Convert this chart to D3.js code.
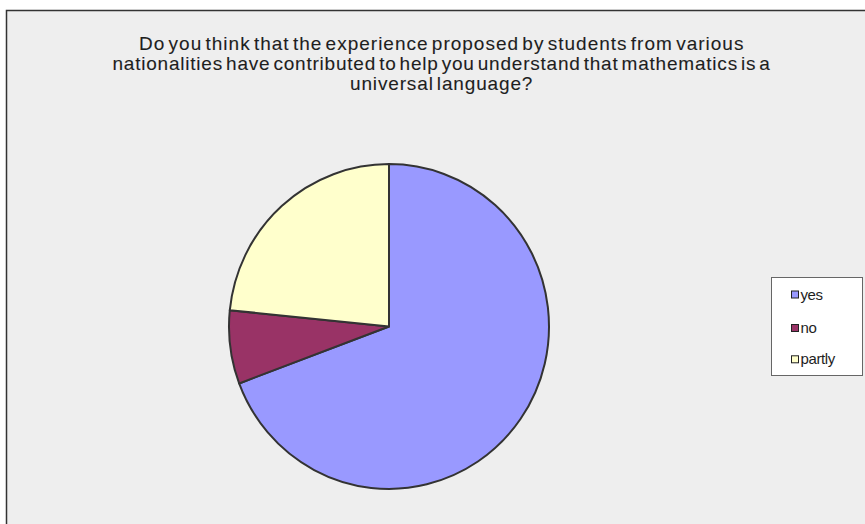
<!DOCTYPE html>
<html>
<head>
<meta charset="utf-8">
<script src="https://cdn.jsdelivr.net/npm/d3@7"></script>
<style>
  html, body { margin: 0; padding: 0; background: #ffffff; }
  svg { display: block; }
  text { font-family: "Liberation Sans", Arial, sans-serif; fill: #1e1e1e; }
</style>
</head>
<body>
<svg id="chart" width="865" height="524"></svg>
<script>
// Survey answers (share of respondents, %)
const categories = ["yes", "no", "partly"];
const values = [69.3, 7.3, 23.4];
const colors = ["#9999FF", "#993366", "#FFFFCC"];
const titleLines = [
  "Do you think that the experience proposed by students from various",
  "nationalities have contributed to help you understand that mathematics is a",
  "universal language?"
];

const W = 865, H = 524;
const svg = d3.select("#chart");

// chart frame: light grey panel with a dark edge on top and left
svg.append("rect").attr("x", 6).attr("y", 10).attr("width", W).attr("height", H)
  .attr("fill", "#eeeeee");
svg.append("path").attr("d", `M6.5,${H} V10.5 H${W}`)
  .attr("fill", "none").attr("stroke", "#333").attr("stroke-width", 1.5);

// title: three centred lines, tightly set
const titleWidths = [604, 657, 182];
svg.append("g").selectAll("text").data(titleLines).join("text")
  .attr("x", 441)
  .attr("y", (d, i) => 49.5 + i * 20)
  .attr("text-anchor", "middle")
  .attr("font-size", 19)
  .attr("word-spacing", -3)
  .attr("letter-spacing", -0.4)
  .attr("stroke", "#1e1e1e")
  .attr("stroke-width", 0.1)
  .attr("textLength", (d, i) => titleWidths[i])
  .attr("lengthAdjust", "spacing")
  .text(d => d);

// pie
const data = categories.map((c, i) => ({ name: c, value: values[i] }));
const pie = d3.pie().value(d => d.value).sort(null).startAngle(0).endAngle(2 * Math.PI);
const arc = d3.arc().innerRadius(0).outerRadius(160);
const color = d3.scaleOrdinal().domain(categories).range(colors);

const g = svg.append("g").attr("transform", "translate(389,326.5) scale(1,1.015)");
g.selectAll("path").data(pie(data)).join("path")
  .attr("d", arc)
  .attr("fill", d => color(d.data.name))
  .attr("stroke", "#333")
  .attr("stroke-width", 2)
  .attr("stroke-linejoin", "round");

// legend
const lg = svg.append("g");
lg.append("rect").attr("x", 771.5).attr("y", 277.5).attr("width", 91).attr("height", 98)
  .attr("fill", "#ffffff").attr("stroke", "#666").attr("stroke-width", 1);
const itemY = [294.5, 328, 359.3];
const items = lg.selectAll("g.item").data(categories).join("g").attr("class", "item")
  .attr("transform", (d, i) => `translate(791,${itemY[i]})`);
items.append("rect").attr("x", 0.5).attr("y", -3.5).attr("width", 7).attr("height", 7)
  .attr("fill", d => color(d)).attr("stroke", "#222").attr("stroke-width", 1);
items.append("text").attr("x", 9.5).attr("y", 5).attr("font-size", 15)
  .attr("letter-spacing", -0.4)
  .text(d => d);
</script>
</body>
</html>
